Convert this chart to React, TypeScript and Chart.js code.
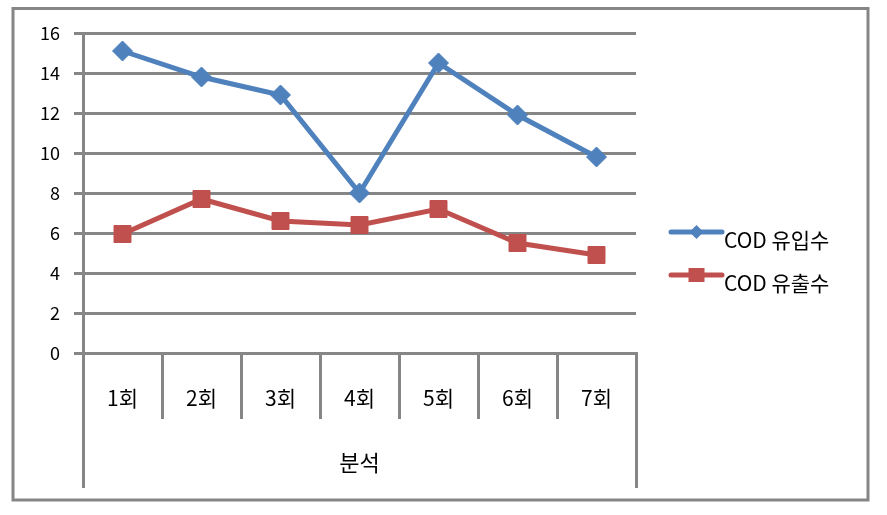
import React, { useEffect, useRef } from 'react';
import { Chart, registerables } from 'chart.js';

Chart.register(...registerables);

const categories = ['1회', '2회', '3회', '4회', '5회', '6회', '7회'];
const groupLabel = '분석';
const inflowLabel = 'COD 유입수';
const outflowLabel = 'COD 유출수';
const inflow = [15.1, 13.8, 12.9, 8.0, 14.5, 11.9, 9.8];
const outflow = [5.95, 7.7, 6.6, 6.4, 7.2, 5.5, 4.9];
const yMin = 0;
const yMax = 16;
const yStep = 2;

const FONT = '"Noto Sans CJK KR", "Noto Sans", sans-serif';
const GRID = '#868686';
const BLUE = '#4F81BD';
const RED = '#C0504D';

const decorPlugin = {
  id: 'decor',
  beforeDraw(chart: any) {
    const ctx = chart.ctx;
    ctx.save();
    ctx.fillStyle = '#ffffff';
    ctx.fillRect(0, 0, chart.width, chart.height);
    ctx.strokeStyle = GRID;
    ctx.lineWidth = 3;
    ctx.strokeRect(13, 8.5, 855, 491.5);
    ctx.restore();
  },
  afterDraw(chart: any) {
    const ctx = chart.ctx;
    const area = chart.chartArea;
    const xScale = chart.scales.x;
    ctx.save();
    // outer category-group lines
    ctx.strokeStyle = GRID;
    ctx.lineWidth = 3;
    const yStart = area.bottom + 60;
    const yEnd = area.bottom + 135;
    [xScale.left, xScale.right].forEach((x: number) => {
      const px = Math.round(x) + 0.5;
      ctx.beginPath();
      ctx.moveTo(px, yStart);
      ctx.lineTo(px, yEnd);
      ctx.stroke();
    });
    // legend
    const lx0 = area.right + 35;
    const lx1 = area.right + 86;
    chart.data.datasets.forEach((ds: any, i: number) => {
      const y = 232 + i * 43;
      ctx.strokeStyle = ds.borderColor;
      ctx.lineWidth = 5;
      ctx.lineCap = 'round';
      ctx.beginPath();
      ctx.moveTo(lx0, y);
      ctx.lineTo(lx1, y);
      ctx.stroke();
      const cx = (lx0 + lx1) / 2;
      ctx.fillStyle = ds.pointBackgroundColor;
      if (ds.pointStyle === 'rectRot') {
        const r = 7;
        ctx.beginPath();
        ctx.moveTo(cx, y - r);
        ctx.lineTo(cx + r, y);
        ctx.lineTo(cx, y + r);
        ctx.lineTo(cx - r, y);
        ctx.closePath();
        ctx.fill();
      } else {
        ctx.fillRect(cx - 8, y - 7, 16, 14);
      }
      ctx.fillStyle = '#000000';
      ctx.font = `21px ${FONT}`;
      ctx.textBaseline = 'middle';
      ctx.textAlign = 'left';
      ctx.fillText(ds.label, lx1 + 2, y + 8);
    });
    ctx.restore();
  },
};

export default function App() {
  const ref = useRef<HTMLCanvasElement | null>(null);
  useEffect(() => {
    if (!ref.current) return;
    const chart = new Chart(ref.current, {
      type: 'line',
      data: {
        labels: categories,
        datasets: [
          {
            label: inflowLabel,
            data: inflow,
            borderColor: BLUE,
            backgroundColor: BLUE,
            pointBackgroundColor: BLUE,
            pointBorderColor: BLUE,
            borderWidth: 5,
            pointStyle: 'rectRot',
            pointRadius: 10,
            pointBorderWidth: 1,
            tension: 0,
          },
          {
            label: outflowLabel,
            data: outflow,
            borderColor: RED,
            backgroundColor: RED,
            pointBackgroundColor: RED,
            pointBorderColor: RED,
            borderWidth: 5,
            pointStyle: 'rect',
            pointRadius: 12,
            pointBorderWidth: 1,
            tension: 0,
          },
        ],
      },
      options: {
        responsive: false,
        animation: false,
        layout: { padding: { top: 33, right: 251, bottom: 0, left: 0 } },
        plugins: {
          legend: { display: false },
          tooltip: { enabled: false },
        },
        scales: {
          x: {
            offset: true,
            grid: {
              offset: true,
              drawOnChartArea: false,
              drawTicks: true,
              tickLength: 66,
              color: GRID,
              lineWidth: 3,
            },
            border: { display: true, color: GRID, width: 3 },
            ticks: {
              font: { family: FONT, size: 21 },
              color: '#000000',
              padding: -34,
              maxRotation: 0,
              autoSkip: false,
            },
            title: {
              display: true,
              text: groupLabel,
              font: { family: FONT, size: 22 },
              color: '#000000',
              padding: { top: 0, bottom: 39 },
            },
            afterFit(scale: any) {
              scale.height = 162;
            },
          },
          y: {
            min: yMin,
            max: yMax,
            ticks: {
              stepSize: yStep,
              font: { family: FONT, size: 18 },
              color: '#000000',
              padding: 14,
            },
            grid: {
              color: GRID,
              lineWidth: 3,
              tickLength: 9,
              drawTicks: true,
            },
            border: { display: true, color: GRID, width: 3 },
            afterFit(scale: any) {
              scale.width = 83;
            },
          },
        },
      },
      plugins: [decorPlugin],
    });
    return () => chart.destroy();
  }, []);
  return (
    <div style={{ position: 'fixed', left: 0, top: 0, width: 887, height: 515, background: '#fff' }}>
      <canvas ref={ref} width={887} height={515} style={{ display: 'block' }} />
    </div>
  );
}
